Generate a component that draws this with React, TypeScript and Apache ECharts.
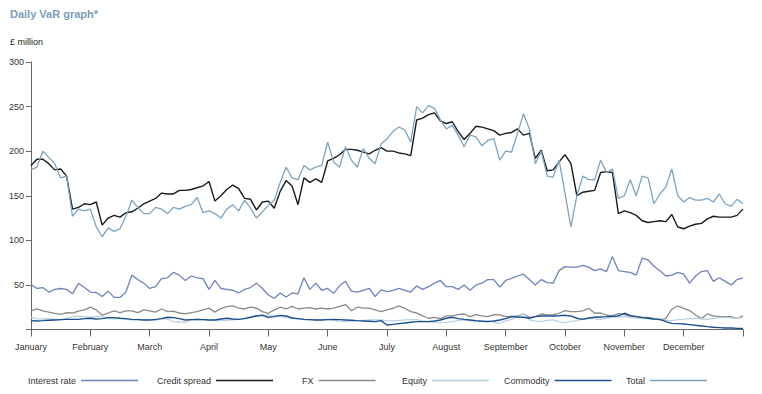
import React, { useEffect, useRef } from "react";
import * as echarts from "echarts";

// Month tick labels (equally spaced months on the time axis)
const months = ["January", "February", "March", "April", "May", "June", "July", "August", "September", "October", "November", "December"];
// Readings per month (values sampled every 1/10 of a month, from Jan start to Dec end)
const samplesPerMonth = 10;

const interestRate = [
  50.5, 46, 47, 42, 45, 46, 45, 40, 51.8, 47,
  42, 41.5, 37, 43, 36, 36, 42, 61, 56, 52,
  46, 48, 57, 58, 64, 61, 55, 60, 58, 57,
  45, 55, 46, 45, 44, 41, 45, 47, 52, 46,
  38.7, 35, 41, 36.5, 41, 40, 58, 45, 52, 44,
  46, 40.6, 49, 54, 43, 42, 44, 46, 37, 44.5,
  42.5, 44, 46, 44, 42, 48.8, 45, 48, 52, 55,
  48, 48, 45, 50, 44, 50, 52, 56, 56, 47.5,
  55, 57.4, 60, 62, 56, 50, 56, 52.6, 52, 66,
  70.5, 70, 70, 72, 70, 66, 68, 65, 82, 66,
  65, 64, 61, 80, 78, 71, 66, 60, 61, 64,
  62, 52, 60, 65, 66, 54, 58, 54, 50, 56,
  58,
];

const creditSpread = [
  184, 191, 191, 186, 179, 180, 172, 135, 137, 141,
  140, 143, 117, 125, 128, 126, 131, 132, 136, 141,
  144, 147, 153, 152, 152, 156, 156, 157, 159, 161,
  166, 144, 150, 157, 162, 158, 147, 146, 134, 143,
  144, 136, 155, 167, 161, 140, 170, 165, 169, 165,
  189, 192, 196, 202, 202, 201, 199, 197, 201, 204,
  200, 200, 198, 197, 195, 235, 237, 241, 243, 234,
  231, 233, 222, 213, 220, 228, 227, 225, 223, 218,
  220, 221, 225, 218, 220, 192, 201, 178, 179, 188,
  196, 186, 150, 154, 155, 156, 176, 177, 176, 130,
  133, 131, 128, 122, 120, 121, 122, 121, 129, 115,
  113, 116, 118, 119, 124, 127, 126, 126, 126, 128,
  135,
];

const fx = [
  21, 23, 21, 19.5, 18, 17, 19, 18.5, 20.5, 22,
  25, 22, 16, 18.5, 21, 19, 21, 21, 19, 22,
  21, 19.5, 23, 20, 20.5, 18.5, 17.5, 19, 20, 22,
  24, 19.5, 23.5, 25.6, 26.4, 24, 23, 25, 24, 20,
  18.2, 22, 25, 23, 26, 23, 24, 24.5, 23, 24,
  23, 24, 26, 28, 21, 25, 24, 24, 22, 20,
  21.9, 23.8, 26.4, 23.8, 20, 18.5, 15.2, 12.6, 13.7, 12.2,
  15.2, 15.2, 16.7, 17.4, 14.4, 16.7, 15.2, 14.4, 16.7, 16.3,
  14.4, 14.8, 15.2, 17.4, 13.7, 14.4, 17.4, 16.3, 16.7, 18.2,
  21.2, 20, 20, 20.8, 23.8, 18.2, 18.5, 16, 15.2, 17.8,
  17, 14.4, 14.8, 13.7, 13.7, 12.2, 10.7, 12.6, 22.7, 26.4,
  23.8, 21.2, 16.3, 12.2, 17.4, 15.2, 14.4, 14.4, 14.4, 12.6,
  15.2,
];

const equity = [
  13.7, 12.2, 11.8, 12.2, 11.4, 10.7, 12.6, 14.4, 14.8, 14.4,
  13.7, 14.8, 14.4, 12.2, 11.8, 12.6, 11.4, 10.7, 11.4, 11.1,
  10.7, 9.9, 12.2, 11.8, 8.8, 8.4, 8.1, 10.7, 11.4, 11.1,
  10.7, 10.3, 9.9, 10.3, 10.7, 11.4, 12.6, 13.7, 15.9, 16.3,
  16.3, 15.9, 14.4, 13.7, 12.6, 11.8, 11.1, 10.7, 10.7, 11.1,
  11.4, 10.7, 9.2, 8.8, 9.6, 9.9, 10.3, 10.7, 10.7, 10.7,
  9.9, 9.6, 10.3, 10.7, 11.1, 11.1, 9.6, 8.8, 8.1, 7.7,
  8.1, 8.8, 9.9, 10.7, 9.6, 8.8, 9.6, 9.6, 8.4, 6.9,
  9.6, 11.4, 14.4, 18, 10.7, 9.6, 8.8, 10.3, 10.7, 8.8,
  7.7, 9.2, 9.9, 11.8, 12.6, 11.8, 11.4, 12.6, 13.7, 14.1,
  14.4, 13.7, 12.9, 12.6, 12.2, 11.4, 11.4, 9.9, 9.9, 11.1,
  11.4, 12.2, 12.6, 11.8, 11.4, 12.2, 13.3, 13.7, 12.9, 12.6,
  13.7,
];

const commodity = [
  9.9, 9.6, 9.9, 10.3, 10.7, 11.1, 11.4, 11.4, 11.4, 12.2,
  12.6, 11.8, 12.2, 13.3, 13.3, 12.6, 12.2, 11.4, 11.1, 10.7,
  10.7, 11.4, 12.2, 13.7, 13.3, 12.2, 10.7, 11.1, 11.4, 11.1,
  10.7, 10.7, 11.8, 12.6, 11.8, 11.4, 12.2, 13.7, 15.2, 15.9,
  13.7, 14.4, 15.9, 15.2, 12.9, 12.2, 11.4, 11.1, 10.7, 10.7,
  11.1, 11.4, 11.1, 10.7, 10.3, 9.9, 9.6, 9.2, 8.8, 9.9,
  5.1, 5.8, 6.6, 7.3, 8.1, 8.8, 8.8, 8.8, 9.6, 10.7,
  12.6, 13.7, 12.2, 11.4, 10.7, 9.9, 9.2, 8.8, 9.6, 10.7,
  12.2, 14.4, 14.1, 13.7, 12.6, 14.4, 15.2, 15.2, 15.2, 15.5,
  15.9, 15.2, 12.6, 11.4, 12.9, 13.7, 14.1, 14.4, 14.8, 15.2,
  18.2, 15.9, 14.4, 13.3, 12.6, 11.8, 11.4, 8.8, 6.9, 6.6,
  6.2, 5.5, 4.7, 4.0, 3.2, 2.5, 2.1, 1.7, 1.7, 1.3,
  1.3,
];

const total = [
  179, 182, 200, 193, 186, 170, 172, 127, 135, 133,
  135, 115, 104, 114, 110, 113, 127, 145, 137, 130,
  130, 137, 135, 130, 137, 135, 138, 140, 148, 131,
  133, 130, 125, 135, 140, 133, 145, 136, 125, 132,
  139, 145, 165, 182, 170, 168, 184, 179, 182, 184,
  210, 188, 182, 205, 190, 182, 203, 192, 186, 208,
  214, 222, 227, 224, 210, 250, 243, 251, 248, 235,
  225, 229, 218, 205, 218, 216, 206, 212, 214, 190,
  200, 199, 220, 242, 225, 186, 200, 172, 171, 190,
  153, 115, 150, 172, 168, 168, 190, 176, 180, 147,
  150, 168, 150, 172, 170, 141, 152, 160, 180, 150,
  143, 148, 145, 145, 147, 143, 152, 141, 138, 146,
  141,
];

const seriesDefs = [
  { name: "Interest rate", values: interestRate, color: "#7083bb", width: 1.3 },
  { name: "Credit spread", values: creditSpread, color: "#1a1a1a", width: 1.4 },
  { name: "FX", values: fx, color: "#8a8a8a", width: 1.3 },
  { name: "Equity", values: equity, color: "#b9d3e4", width: 1.3 },
  { name: "Commodity", values: commodity, color: "#1d4f8f", width: 1.4 },
  { name: "Total", values: total, color: "#7ea3c1", width: 1.3 },
];

const legendLefts = [28, 157, 302, 402, 504, 626];

const FONT = "'Liberation Sans', Arial, sans-serif";

export default function App() {
  const ref = useRef<HTMLDivElement>(null);

  useEffect(() => {
    document.body.style.margin = "0";
    if (!ref.current) return;
    const chart = echarts.init(ref.current, null, { renderer: "svg" });

    const option: any = {
      animation: false,
      textStyle: { fontFamily: FONT },
      title: [
        {
          text: "Daily VaR graph*",
          left: 10,
          top: 8,
          padding: 0,
          textStyle: { fontFamily: FONT, fontSize: 11, fontWeight: "bold", color: "#7d9dbd" },
        },
        {
          text: "£ million",
          left: 10,
          top: 37,
          padding: 0,
          textStyle: { fontFamily: FONT, fontSize: 9, fontWeight: "normal", color: "#222" },
        },
      ],
      legend: seriesDefs.map((s, i) => ({
        data: [s.name],
        left: legendLefts[i],
        top: 376,
        padding: 0,
        align: "right",
        icon: "rect",
        itemWidth: 57,
        itemHeight: 1.5,
        selectedMode: false,
        textStyle: { fontFamily: FONT, fontSize: 9, color: "#333" },
      })),
      grid: { left: 31, right: 19, top: 62, bottom: 64.5, containLabel: false },
      xAxis: {
        type: "value",
        min: 0,
        max: 12,
        interval: 1,
        axisLine: { show: true, lineStyle: { color: "#666", width: 1 } },
        axisTick: { show: true, length: 7, lineStyle: { color: "#666" } },
        axisLabel: {
          fontFamily: FONT,
          fontSize: 9,
          color: "#333",
          margin: 13,
          formatter: (v: number) => months[Math.round(v)] ?? "",
        },
        splitLine: { show: false },
      },
      yAxis: {
        type: "value",
        min: 0,
        max: 300,
        interval: 50,
        axisLine: { show: true, lineStyle: { color: "#666", width: 1 } },
        axisTick: { show: true, length: 5, lineStyle: { color: "#666" } },
        axisLabel: {
          fontFamily: FONT,
          fontSize: 9,
          color: "#333",
          margin: 7,
          formatter: (v: number) => (v === 0 ? "" : String(v)),
        },
        splitLine: { show: false },
      },
      series: seriesDefs.map((s) => ({
        name: s.name,
        type: "line",
        showSymbol: false,
        symbol: "none",
        color: s.color,
        lineStyle: { color: s.color, width: s.width },
        data: s.values.map((v, i) => [i / samplesPerMonth, v]),
      })),
    };

    chart.setOption(option);
    return () => chart.dispose();
  }, []);

  return <div ref={ref} style={{ width: 762, height: 394 }} />;
}
